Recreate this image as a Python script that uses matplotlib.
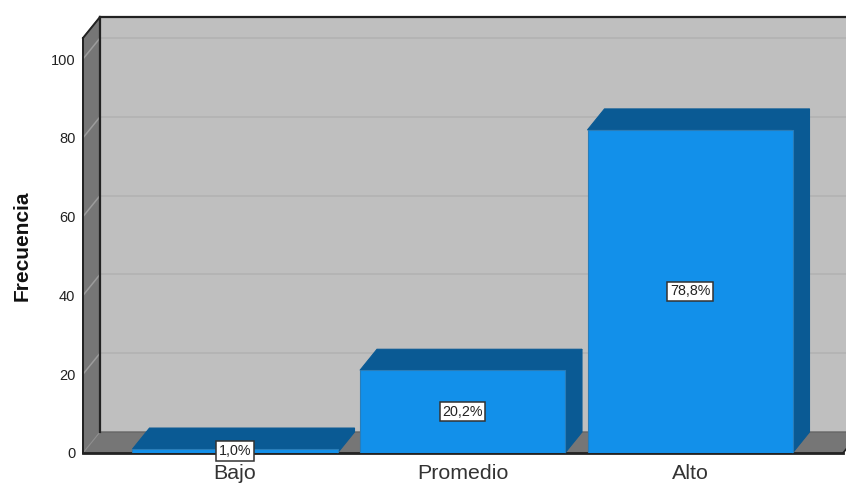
import matplotlib
matplotlib.use("Agg")
import matplotlib.pyplot as plt
from matplotlib.patches import Polygon

plt.rcParams["font.family"] = ["Liberation Sans", "DejaVu Sans"]

categories = ["Bajo", "Promedio", "Alto"]
frecuencia = [1, 21, 82]
porcentajes = ["1,0%", "20,2%", "78,8%"]
y_ticks = [0, 20, 40, 60, 80, 100]

W, H = 846, 484
LEFT, RIGHT, BOTTOM, TOP = 83, 843, 453, 38   # front plane in pixels
PX_X = 227.5    # pixels per category
PX_Y = 3.94     # pixels per count
DX = 17 / PX_X  # depth offset in data units
DY = 21 / PX_Y
BAR_W = 205 / PX_X

FRONT = "#1290EA"
DARK = "#0A5A94"
WALL = "#BFBFBF"
SIDE = "#767676"
LINE = "#222222"
TEXT = "#333333"

fig = plt.figure(figsize=(W / 100, H / 100), dpi=100)
ax = fig.add_axes([LEFT / W, (H - BOTTOM) / H, (RIGHT - LEFT) / W, (BOTTOM - TOP) / H])
ax.set_xlim((LEFT - 235) / PX_X, (RIGHT - 235) / PX_X)
ax.set_ylim(0, (BOTTOM - TOP) / PX_Y)
x0, x1 = ax.get_xlim()
y0, y1 = ax.get_ylim()
for s in ax.spines.values():
    s.set_visible(False)
ax.patch.set_visible(False)


def poly(points, color, edge=None, z=1, lw=1.0):
    p = Polygon(points, closed=True, facecolor=color, edgecolor=edge or color,
                linewidth=lw, zorder=z, clip_on=False)
    ax.add_patch(p)


# walls and floor
poly([(x0 + DX, y0 + DY), (x1 + DX, y0 + DY), (x1 + DX, y1 + DY), (x0 + DX, y1 + DY)], WALL)
poly([(x0, y0), (x0 + DX, y0 + DY), (x0 + DX, y1 + DY), (x0, y1)], SIDE)
poly([(x0, y0), (x1, y0), (x1 + DX, y0 + DY), (x0 + DX, y0 + DY)], SIDE, edge="#666666")

# gridlines on back wall and side wall
for t in y_ticks[1:]:
    ax.plot([x0 + DX, x1 + DX], [t + DY, t + DY], color="#B2B2B2", lw=1.2, zorder=2, clip_on=False)
    ax.plot([x0, x0 + DX], [t, t + DY], color="#9C9C9C", lw=1.1, zorder=2, clip_on=False)
ax.plot([x0, x0 + DX], [0, DY], color="#8E8E8E", lw=1, zorder=2)

# frame lines
ax.plot([x0 + DX, x0 + DX], [y0 + DY, y1 + DY], color=LINE, lw=1.6, zorder=3, clip_on=False)
ax.plot([x0 + DX, x1 + DX], [y1 + DY, y1 + DY], color=LINE, lw=1.6, zorder=3, clip_on=False)
ax.plot([x0, x0], [y0, y1], color=LINE, lw=1.4, zorder=3, clip_on=False)
ax.plot([x0, x0 + DX], [y1, y1 + DY], color=LINE, lw=1.4, zorder=3, clip_on=False)
ax.plot([x0, x1], [y0, y0], color=LINE, lw=2, zorder=3, clip_on=False)
ax.plot([x1, x1 + DX], [y0, y0 + DY], color=LINE, lw=1.2, zorder=3, clip_on=False)

# bars
xs = list(range(len(categories)))
ax.bar(xs, frecuencia, width=BAR_W, color=FRONT, edgecolor="#2A7DB8", linewidth=0.8, zorder=5)
for x, v in zip(xs, frecuencia):
    l, r = x - BAR_W / 2, x + BAR_W / 2
    poly([(l, v), (r, v), (r + DX, v + DY), (l + DX, v + DY)], DARK, z=4.5, lw=0.8)
    poly([(r, 0), (r + DX, DY), (r + DX, v + DY), (r, v)], DARK, z=4.5, lw=0.8)

# value labels
for x, v, lab in zip(xs, frecuencia, porcentajes):
    ax.text(x, v / 2, lab, ha="center", va="center", fontsize=10.3, color="#222222", zorder=6,
            bbox=dict(boxstyle="square,pad=0.18", facecolor="white", edgecolor="#333333", linewidth=1.1))

ax.set_xticks(xs)
ax.set_xticklabels(categories, fontsize=15.4, color=TEXT)
ax.set_yticks(y_ticks)
ax.set_yticklabels([str(t) for t in y_ticks], fontsize=10.5, color="#222222")
ax.tick_params(axis="x", length=0, pad=8.2)
ax.tick_params(axis="y", length=0, pad=5.5)
ax.set_ylabel("Frecuencia", fontsize=15, fontweight="bold", color="#111111", va="center")
ax.yaxis.set_label_coords((22 - LEFT) / (RIGHT - LEFT), (BOTTOM - 246) / (BOTTOM - TOP))

fig.savefig("out.png", dpi=100, facecolor="white")
